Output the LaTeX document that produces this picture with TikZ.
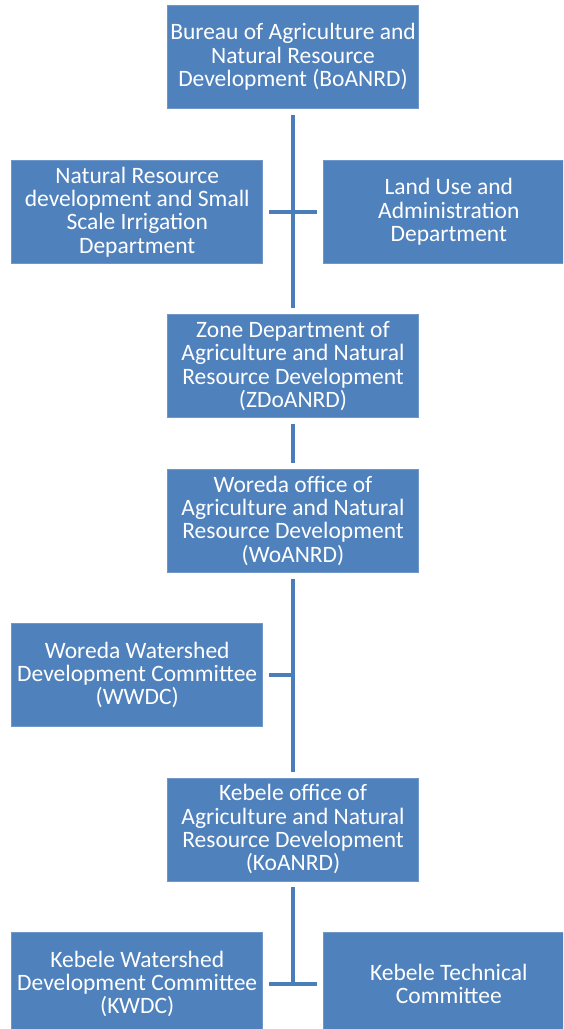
\documentclass[tikz,border=0pt]{standalone}
\usepackage{fontspec}
\setmainfont{Carlito}
\usetikzlibrary{positioning}
\definecolor{boxblue}{HTML}{4F81BD}
\definecolor{lineblue}{HTML}{4A7EBB}
\definecolor{edgeblue}{HTML}{6F97CA}
\tikzset{
  box/.style={draw=edgeblue, line width=0.6pt, fill=boxblue, text=white, minimum height=103pt, minimum width=251pt, inner sep=0pt, align=center, font=\fontsize{23.5}{23.3}\selectfont},
  link/.style={draw=lineblue, line width=4.5pt, shorten <=6pt, shorten >=6pt},
}

\begin{document}
\begin{tikzpicture}[node distance=51pt]
    \clip (0,0) rectangle (563pt,-1029pt);
    \node[box] (boa) at (293pt,-57pt) {Bureau of Agriculture and\\Natural Resource\\Development (BoANRD)};
    \coordinate[below=103pt of boa.south] (t1);
    \node[box, left=30pt of t1] (nrd) {Natural Resource\\development and Small\\Scale Irrigation\\Department};
    \node[box, right=30pt of t1] (lua) {Land Use and\\Administration\\Department};
    \node[box, below=102.5pt of t1] (zdo) {Zone Department of\\Agriculture and Natural\\Resource Development\\(ZDoANRD)};
    \node[box, below=of zdo] (woa) {Woreda office of\\Agriculture and Natural\\Resource Development\\(WoANRD)};
    \coordinate[below=102.5pt of woa.south] (t2);
    \node[box, left=30pt of t2] (wwdc) {Woreda Watershed\\Development Committee\\(WWDC)};
    \node[box, below=102.5pt of t2] (koa) {Kebele office of\\Agriculture and Natural\\Resource Development\\(KoANRD)};
    \coordinate[below=103pt of koa.south] (t3);
    \node[box, left=30pt of t3] (kwdc) {Kebele Watershed\\Development Committee\\(KWDC)};
    \node[box, right=30pt of t3] (ktc) {Kebele Technical\\Committee};
    \draw[link] (boa) -- (zdo);
    \draw[link] (nrd) -- (lua);
    \draw[link] (zdo) -- (woa);
    \draw[link] (woa) -- (koa);
    \draw[link, shorten >=-2.25pt] (wwdc) -- (t2);
    \draw[link, shorten >=-2.25pt] (koa) -- (t3);
    \draw[link] (kwdc) -- (ktc);
  \end{tikzpicture}
\end{document}
